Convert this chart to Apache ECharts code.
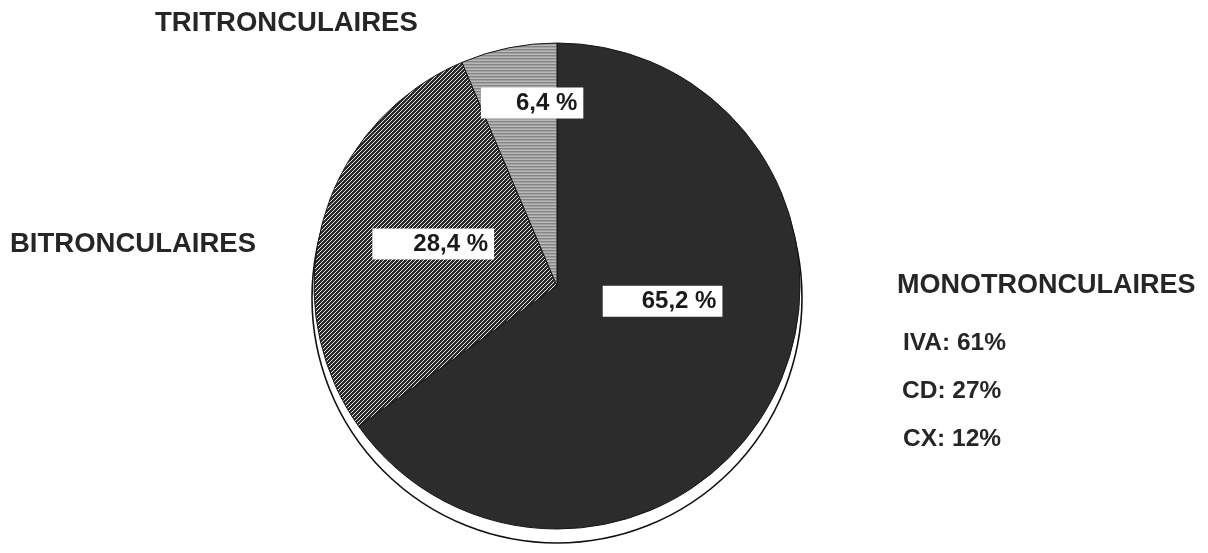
<!DOCTYPE html>
<html>
<head>
<meta charset="utf-8">
<script src="https://cdn.jsdelivr.net/npm/echarts@6/dist/echarts.min.js"></script>
<style>
  html, body { margin: 0; padding: 0; background: #fff; }
  #chart { width: 1208px; height: 553px; }
</style>
</head>
<body>
<div id="chart"></div>
<script>
// data
const categories = ['MONOTRONCULAIRES', 'BITRONCULAIRES', 'TRITRONCULAIRES'];
const values = [65.2, 28.4, 6.4];
const valueLabels = ['65,2 %', '28,4 %', '6,4 %'];
const monoDetail = ['IVA: 61%', 'CD: 27%', 'CX: 12%'];

// label box tweaks (offset from default inside position, left padding)
const labelOffsets = [[-5, -42], [-4, -8], [0, -61]];
const labelLeftPad = [39, 41, 35];

const FONT = '"Liberation Sans", Arial, sans-serif';

function hatchTile() {
  const c = document.createElement('canvas');
  c.width = 4; c.height = 4;
  const ctx = c.getContext('2d');
  ctx.fillStyle = '#2a2a2a';
  ctx.fillRect(0, 0, 4, 4);
  ctx.strokeStyle = '#e4e4e4';
  ctx.lineWidth = 1;
  ctx.beginPath();
  ctx.moveTo(-1, 5); ctx.lineTo(5, -1);
  ctx.moveTo(-1, 1); ctx.lineTo(1, -1);
  ctx.moveTo(3, 5); ctx.lineTo(5, 3);
  ctx.stroke();
  return c;
}

function greyTile() {
  const c = document.createElement('canvas');
  c.width = 2; c.height = 3;
  const ctx = c.getContext('2d');
  ctx.fillStyle = '#b8b8b8'; ctx.fillRect(0, 0, 2, 1);
  ctx.fillStyle = '#858585'; ctx.fillRect(0, 1, 2, 1);
  ctx.fillStyle = '#a2a2a2'; ctx.fillRect(0, 2, 2, 1);
  return c;
}

const fills = [
  '#2c2c2c',
  {image: hatchTile(), repeat: 'repeat'},
  {image: greyTile(), repeat: 'repeat'}
];

const chart = echarts.init(document.getElementById('chart'));

const pieData = categories.map((name, i) => ({
  name: name,
  value: values[i],
  itemStyle: {color: fills[i]},
  label: {
    formatter: valueLabels[i],
    offset: labelOffsets[i],
    padding: [4, 6, 3, labelLeftPad[i]]
  }
}));

const sideText = (text, x, y, size) => ({
  type: 'text',
  left: x,
  top: y,
  style: {
    text: text,
    fill: '#262626',
    font: 'bold ' + size + 'px ' + FONT
  }
});

chart.setOption({
  backgroundColor: '#fff',
  animation: false,
  series: [
    {
      // outline circle showing under the lower part of the pie
      type: 'pie',
      silent: true,
      center: [557, 298],
      radius: 245,
      z: 1,
      label: {show: false},
      labelLine: {show: false},
      itemStyle: {color: '#fff', borderColor: '#111', borderWidth: 1.6},
      data: [{value: 1, name: 'contour'}]
    },
    {
      type: 'pie',
      center: [557, 286],
      radius: 243,
      startAngle: 90,
      clockwise: true,
      z: 2,
      itemStyle: {borderColor: '#151515', borderWidth: 1},
      label: {
        show: true,
        position: 'inside',
        color: '#1a1a1a',
        backgroundColor: '#fff',
        fontFamily: FONT,
        fontWeight: 'bold',
        fontSize: 24,
        lineHeight: 24
      },
      labelLine: {show: false},
      emphasis: {disabled: true},
      data: pieData
    }
  ],
  graphic: [
    sideText(categories[2], 155, 9, 27.5),
    sideText(categories[1], 10, 230, 27.5),
    sideText(categories[0], 897, 272, 27),
    sideText(monoDetail[0], 903, 331, 24.5),
    sideText(monoDetail[1], 902, 379, 24.5),
    sideText(monoDetail[2], 903, 427, 24.5)
  ]
});
</script>
</body>
</html>
